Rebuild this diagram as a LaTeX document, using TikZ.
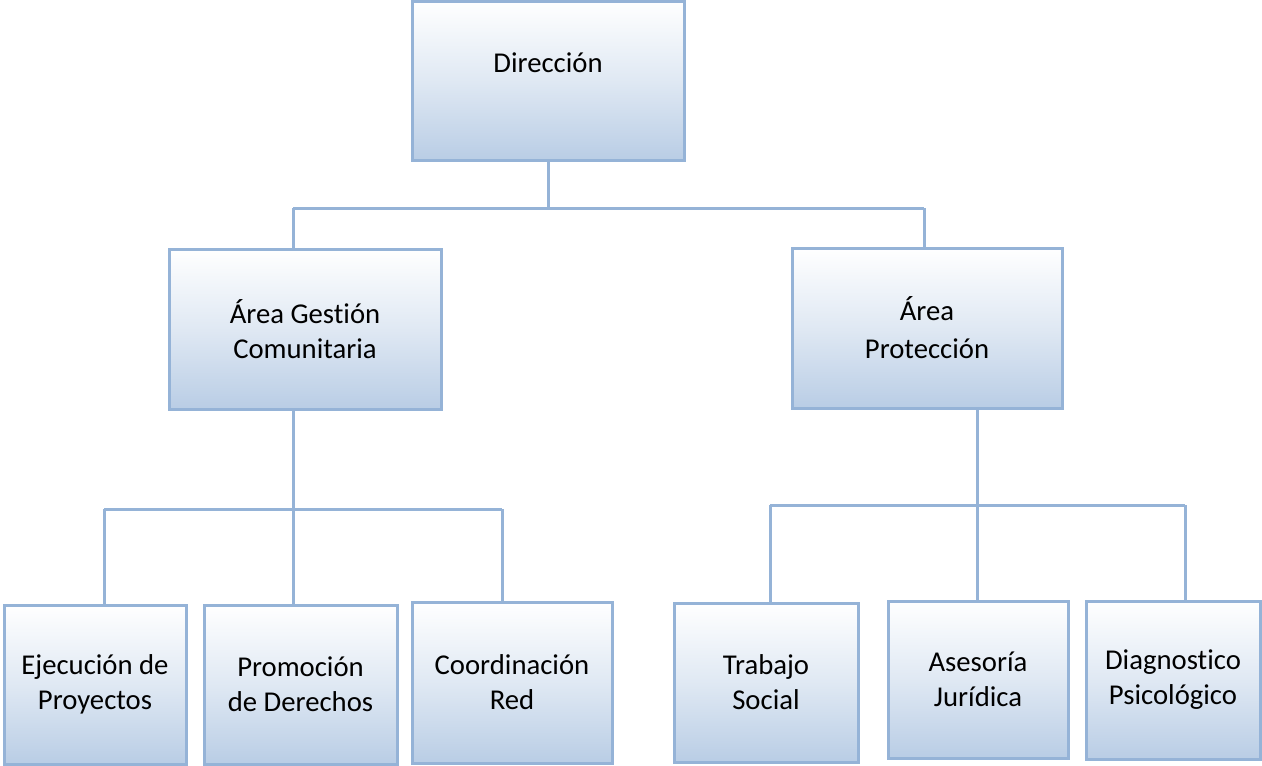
\documentclass[tikz,border=0pt]{standalone}
\usepackage{fontspec}
\setmainfont{Carlito}[RawFeature=-liga]
\usepackage{tikz}
\usepackage{xcolor}
\definecolor{unitedge}{HTML}{95B3D7}
\definecolor{unitfill}{HTML}{B9CDE5}
\tikzset{
    unit-box/.style = {draw=unitedge, line width=3pt, rectangle, top color=white, bottom color=unitfill, middle color=unitfill!45!white, inner sep=0pt, outer sep=0pt, align=center, font=\fontsize{28.7}{35}\selectfont},
    unit-link/.style = {draw=unitedge, line width=3pt},
}

\begin{document}
\begin{tikzpicture}[x=1pt, y=-1pt]
\useasboundingbox (0,0) rectangle (1262,766);
\node [unit-box, minimum width=272, minimum height=159] (dir) at (548,80.5) {Dirección\\ \mbox{}};
\node [unit-box, minimum width=272, minimum height=160] (gest) at (305,329) {Área Gestión\\Comunitaria};
\node [unit-box, minimum width=270, minimum height=160] (prot) at (927,328) {Área\\[3pt]Protección};
\node [unit-box, minimum width=182, minimum height=159] (ejec) at (95,684.5) {Ejecución de\\Proyectos};
\node [unit-box, minimum width=193, minimum height=159] (prom) at (300.5,684.5) {Promoción\\de Derechos};
\node [unit-box, minimum width=200, minimum height=161] (coord) at (512,682.5) {Coordinación\\Red};
\node [unit-box, minimum width=184, minimum height=159] (trab) at (766,682.5) {Trabajo\\Social};
\node [unit-box, minimum width=180, minimum height=157] (ases) at (978,679.5) {Asesoría\\Jurídica};
\node [unit-box, minimum width=174, minimum height=158] (diag) at (1173,680) {Diagnostico\\Psicológico};

\coordinate (bus-gest) at (293,208);
\coordinate (bus-prot) at (924,208);
\coordinate (bus-ejec) at (104,509);
\coordinate (bus-coord) at (502,509);
\coordinate (bus-trab) at (770,505);
\coordinate (bus-ases) at (977,505);
\coordinate (bus-diag) at (1185,505);

\draw [unit-link] (dir.south) -- (dir.south |- bus-gest);
\draw [unit-link] (bus-gest) -- (bus-prot);
\draw [unit-link] (bus-gest) -- (bus-gest |- gest.north);
\draw [unit-link] (bus-prot) -- (bus-prot |- prot.north);

\draw [unit-link] (bus-gest |- gest.south) -- (bus-gest |- bus-ejec);
\draw [unit-link] (bus-ejec) -- (bus-coord);
\draw [unit-link] (bus-ejec) -- (bus-ejec |- ejec.north);
\draw [unit-link] (bus-gest |- bus-ejec) -- (bus-gest |- prom.north);
\draw [unit-link] (bus-coord) -- (bus-coord |- coord.north);

\draw [unit-link] (bus-ases |- prot.south) -- (bus-ases);
\draw [unit-link] (bus-trab) -- (bus-diag);
\draw [unit-link] (bus-trab) -- (bus-trab |- trab.north);
\draw [unit-link] (bus-ases) -- (bus-ases |- ases.north);
\draw [unit-link] (bus-diag) -- (bus-diag |- diag.north);
\end{tikzpicture}
\end{document}
